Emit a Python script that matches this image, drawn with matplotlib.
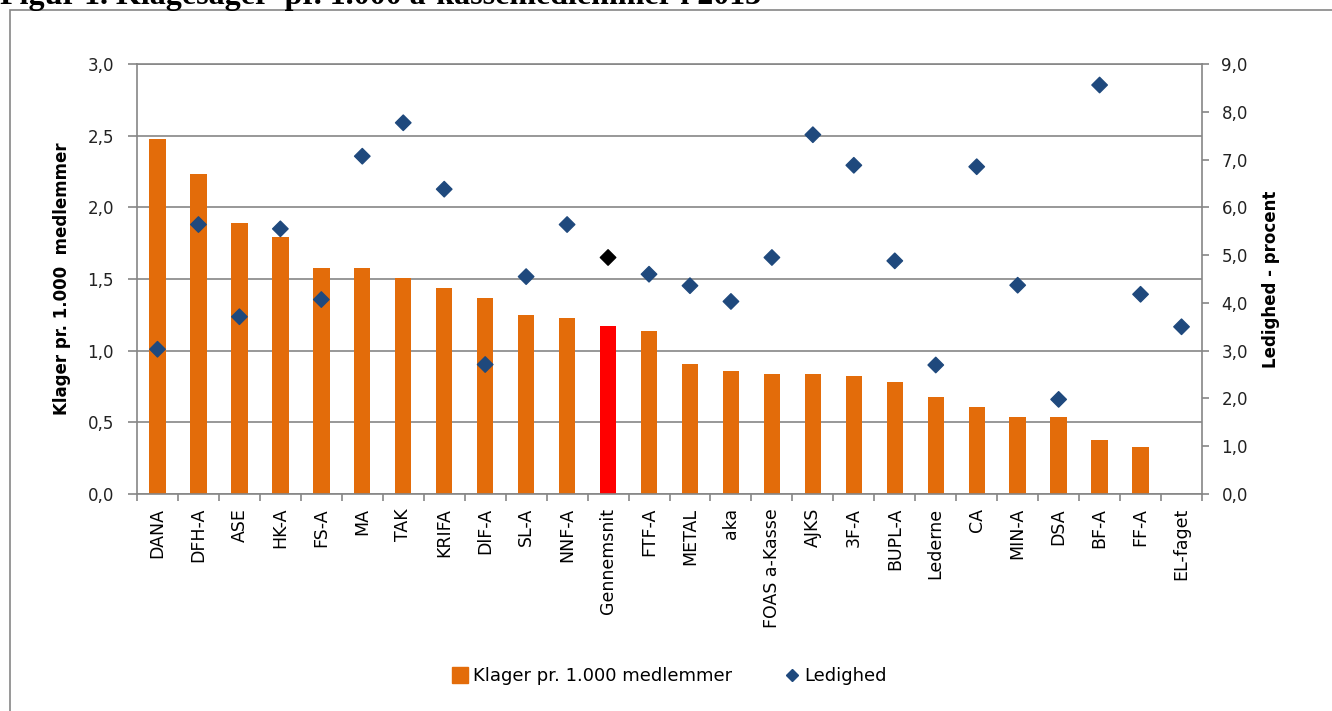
import numpy as np
import matplotlib.pyplot as plt
from matplotlib.patches import Rectangle
from matplotlib.lines import Line2D

# data
kasser = ['DANA', 'DFH-A', 'ASE', 'HK-A', 'FS-A', 'MA', 'TAK', 'KRIFA', 'DlF-A',
          'SL-A', 'NNF-A', 'Gennemsnit', 'FTF-A', 'METAL', 'aka', 'FOAS a-Kasse',
          'AJKS', '3F-A', 'BUPL-A', 'Lederne', 'CA', 'MIN-A', 'DSA', 'BF-A',
          'FF-A', 'EL-faget']
klager = [2.48, 2.23, 1.89, 1.79, 1.58, 1.58, 1.51, 1.44, 1.37,
          1.25, 1.23, 1.17, 1.14, 0.91, 0.86, 0.84,
          0.84, 0.82, 0.78, 0.68, 0.61, 0.54, 0.54, 0.38,
          0.33, 0.0]
ledighed = [3.03, 5.64, 3.71, 5.55, 4.07, 7.07, 7.77, 6.38, 2.71,
            4.55, 5.64, 4.95, 4.60, 4.36, 4.03, 4.95,
            7.52, 6.88, 4.88, 2.70, 6.85, 4.37, 1.98, 8.56,
            4.18, 3.50]

orange = '#E36C0A'
blue = '#1F497D'
grey = '#868686'
fnt = 'DejaVu Sans'

W, H = 1332, 711
fig = plt.figure(figsize=(W / 100, H / 100), dpi=100)

# outer frame of the chart object (runs past the right/bottom edge)
fig.patches.append(Rectangle((10 / W, -0.1), 1.2, 1.1 - 10 / H,
                             transform=fig.transFigure, fill=False,
                             edgecolor=grey, linewidth=1.2))
# document caption above the chart, cut by the top edge as in the source
fig.text(0.0, 1 - 4 / H, 'Figur 1. Klagesager  pr. 1.000 a-kassemedlemmer i 2013',
         family='Liberation Serif', weight='bold', fontsize=23,
         ha='left', va='baseline')

ax = fig.add_axes([137 / W, (H - 494) / H, (1202 - 137) / W, (494 - 64) / H])
x = np.arange(len(kasser))
cols = ['red' if k == 'Gennemsnit' else orange for k in kasser]
ax.bar(x, klager, width=0.4, color=cols, zorder=2)

ax.set_xlim(-0.5, len(kasser) - 0.5)
ax.set_ylim(0, 3.0)
ax.set_yticks(np.arange(0, 3.01, 0.5))
ax.set_yticklabels([f'{v:.1f}'.replace('.', ',') for v in np.arange(0, 3.01, 0.5)])
ax.grid(axis='y', color=grey, linewidth=1.2, zorder=0)
ax.set_axisbelow(True)
ax.set_xticks(x)
ax.set_xticklabels(kasser, rotation=90, fontsize=12.5, family=fnt, va='top')
ax.set_xticks(np.arange(-0.5, len(kasser), 1), minor=True)
ax.tick_params(axis='x', which='major', length=0, pad=10)
ax.tick_params(axis='x', which='minor', length=5, color=grey, width=1.2)
ax.tick_params(axis='y', length=6.5, color=grey, width=1.2, pad=10, labelsize=12)
for lab in ax.get_yticklabels():
    lab.set_family(fnt)
    lab.set_color('#222222')
for s in ['left', 'bottom', 'top']:
    ax.spines[s].set_color(grey)
    ax.spines[s].set_linewidth(1.2)
ax.spines['right'].set_visible(False)
ax.set_ylabel('Klager pr. 1.000  medlemmer', fontsize=12, weight='bold',
              family=fnt, labelpad=12)

ax2 = ax.twinx()
mcols = ['black' if k == 'Gennemsnit' else blue for k in kasser]
ax2.scatter(x, ledighed, marker='D', s=62, c=mcols, zorder=3)
ax2.set_ylim(0, 9.0)
ax2.set_yticks(np.arange(0, 9.01, 1.0))
ax2.set_yticklabels([f'{v:.1f}'.replace('.', ',') for v in np.arange(0, 9.01, 1.0)])
ax2.tick_params(axis='y', length=5, color=grey, width=1.2, pad=9, labelsize=12)
for lab in ax2.get_yticklabels():
    lab.set_family(fnt)
    lab.set_color('#222222')
for s in ['left', 'bottom', 'top']:
    ax2.spines[s].set_visible(False)
ax2.spines['right'].set_color(grey)
ax2.spines['right'].set_linewidth(1.2)
ax2.set_ylabel('Ledighed - procent', fontsize=12, weight='bold',
               family=['Liberation Sans Narrow', 'DejaVu Sans'], labelpad=10)

handles = [Line2D([], [], marker='s', linestyle='', color=orange, markersize=11),
           Line2D([], [], marker='D', linestyle='', color=blue, markersize=6)]
fig.legend(handles, ['Klager pr. 1.000 medlemmer', 'Ledighed'],
           loc='center', bbox_to_anchor=(670 / W, 1 - 676 / H), ncol=2,
           frameon=False, handlelength=0.8, handletextpad=0.3,
           columnspacing=2.9, prop={'family': fnt, 'size': 13})

fig.savefig('out.png', dpi=100)
